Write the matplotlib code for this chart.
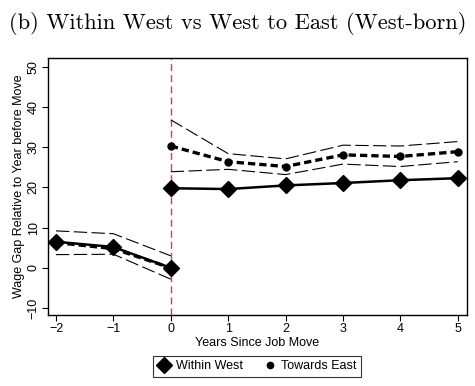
import matplotlib
matplotlib.use('Agg')
import matplotlib.pyplot as plt
from matplotlib.lines import Line2D

plt.rcParams['font.family'] = ['Liberation Sans', 'DejaVu Sans']

# event time
pre_x = [-2, -1, 0]
post_x = [0, 1, 2, 3, 4, 5]

# within west
west_pre = [6.5, 5.2, 0.0]
west_post = [19.8, 19.6, 20.5, 21.1, 21.8, 22.3]

# towards east
east_pre = [6.3, 4.8, 0.0]
east_post = [30.3, 26.4, 25.2, 28.1, 27.7, 28.9]
east_pre_hi = [9.2, 8.5, 3.0]
east_pre_lo = [3.3, 3.4, -2.8]
east_post_hi = [36.8, 28.4, 27.1, 30.5, 30.3, 31.4]
east_post_lo = [23.9, 24.5, 23.2, 25.8, 25.2, 26.4]

fig = plt.figure(figsize=(4.75, 3.86), dpi=100)
ax = fig.add_axes([0.101, 0.184, 0.882, 0.666])

ax.axvline(0, color='#e8344a', lw=1.0, ls=(0, (5, 3)), zorder=1)

for xs, hi, lo in [(pre_x, east_pre_hi, east_pre_lo), (post_x, east_post_hi, east_post_lo)]:
    ax.plot(xs, hi, color='black', lw=0.8, ls=(0, (12, 4)), zorder=2)
    ax.plot(xs, lo, color='black', lw=0.8, ls=(0, (12, 4)), zorder=2)

for xs, ys in [(pre_x, east_pre), (post_x, east_post)]:
    ax.plot(xs, ys, color='black', lw=2.4, ls=(0, (2.2, 1.2)), marker='o', ms=5, zorder=3)
for xs, ys in [(pre_x, west_pre), (post_x, west_post)]:
    ax.plot(xs, ys, color='black', lw=1.8, ls='-', marker='D', ms=8, zorder=4)

ax.set_xlim(-2.14, 5.16)
ax.set_ylim(-11.7, 52.2)
ax.set_xticks(range(-2, 6))
ax.set_yticks(range(-10, 51, 10))
ax.tick_params(axis='both', labelsize=9, direction='out', length=4, width=0.8, pad=2)
for lab in ax.get_yticklabels():
    lab.set_rotation(90)
    lab.set_va('center')
ax.set_xlabel('Years Since Job Move', fontsize=9, labelpad=1)
ax.set_ylabel('Wage Gap Relative to Year before Move', fontsize=9, labelpad=2)
for s in ax.spines.values():
    s.set_linewidth(1.0)

handles = [Line2D([], [], color='black', marker='D', ls='none', ms=8),
           Line2D([], [], color='black', marker='o', ls='none', ms=4.5)]
leg = fig.legend(handles, ['Within West', 'Towards East'], loc='center',
                 bbox_to_anchor=(0.541, 0.051), ncol=2, fontsize=9, frameon=True,
                 fancybox=False, edgecolor='black', handlelength=1.2,
                 handletextpad=0.3, columnspacing=1.6, borderpad=0.35,
                 borderaxespad=0)
leg.get_frame().set_linewidth(0.8)

fig.text(0.5, 0.94, '(b) Within West vs West to East (West-born)', ha='center', va='center',
         fontsize=16.2, family='cmr10')

fig.savefig('out.png', dpi=100)
